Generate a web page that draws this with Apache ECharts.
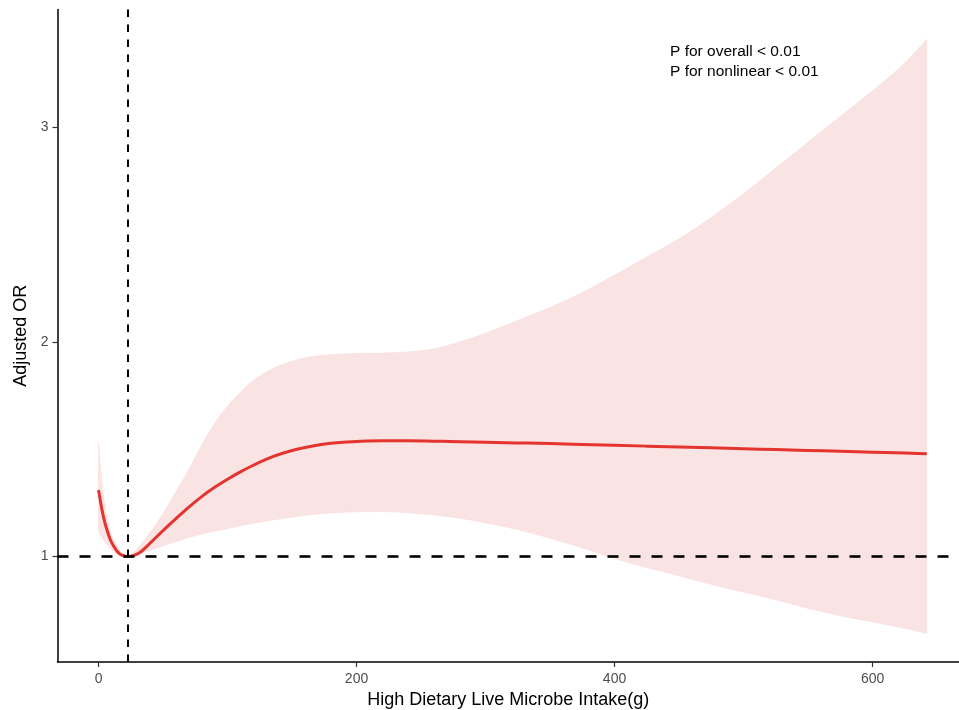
<!DOCTYPE html>
<html>
<head>
<meta charset="utf-8">
<script src="https://cdn.jsdelivr.net/npm/echarts@6/dist/echarts.min.js"></script>
<style>
html,body{margin:0;padding:0;background:#fff;}
#chart{width:959px;height:710px;}
</style>
</head>
<body>
<div id="chart"></div>
<script>
// ---- data ----
var intake = [0, 2, 4, 6, 9, 12, 15, 18, 22.5, 27, 32, 40, 50, 60, 70, 80, 90, 100, 110, 120, 135, 150, 165, 180, 200, 220, 240, 260, 280, 300, 325, 350, 375, 400, 425, 450, 475, 500, 525, 550, 575, 600, 625, 642];
var orFit = [1.31, 1.24, 1.18, 1.135, 1.08, 1.045, 1.02, 1.006, 1.0, 1.004, 1.018, 1.062, 1.12, 1.176, 1.23, 1.279, 1.322, 1.36, 1.394, 1.425, 1.465, 1.494, 1.514, 1.527, 1.536, 1.539, 1.539, 1.537, 1.535, 1.532, 1.529, 1.526, 1.522, 1.518, 1.514, 1.51, 1.506, 1.502, 1.498, 1.494, 1.49, 1.486, 1.482, 1.479];
var orUpper = [1.53, 1.38, 1.28, 1.2, 1.12, 1.075, 1.04, 1.015, 1.0, 1.02, 1.05, 1.11, 1.2, 1.3, 1.405, 1.52, 1.62, 1.7, 1.765, 1.82, 1.875, 1.91, 1.93, 1.94, 1.946, 1.948, 1.953, 1.967, 2.0, 2.04, 2.1, 2.16, 2.23, 2.31, 2.395, 2.48, 2.58, 2.69, 2.81, 2.93, 3.05, 3.17, 3.3, 3.41];
var orLower = [1.12, 1.095, 1.075, 1.06, 1.04, 1.022, 1.01, 1.003, 1.0, 1.006, 1.014, 1.028, 1.05, 1.07, 1.088, 1.104, 1.118, 1.13, 1.143, 1.155, 1.17, 1.183, 1.195, 1.203, 1.208, 1.209, 1.204, 1.193, 1.178, 1.157, 1.125, 1.085, 1.04, 0.99, 0.948, 0.91, 0.87, 0.834, 0.798, 0.758, 0.724, 0.695, 0.665, 0.642];
var refIntake = 22.5;   // vertical reference line
var refOR = 1;          // horizontal reference line
var xTicks = [0, 200, 400, 600];
var yTicks = [1, 2, 3];
var annotation = ['P for overall < 0.01', 'P for nonlinear < 0.01'];
var xTitle = 'High Dietary Live Microbe Intake(g)';
var yTitle = 'Adjusted OR';

// ---- helpers ----
var FONT = '"Liberation Sans", Arial, Helvetica, sans-serif';

// smooth cubic path through pixel points (monotone in x), Hermite with finite-difference slopes
function hermitePath(pts, first) {
  var n = pts.length, m = [];
  for (var i = 0; i < n; i++) {
    var a = pts[Math.max(i - 1, 0)], b = pts[Math.min(i + 1, n - 1)];
    m.push((b[1] - a[1]) / (b[0] - a[0]));
  }
  var d = (first ? 'M' : 'L') + pts[0][0].toFixed(2) + ' ' + pts[0][1].toFixed(2);
  for (var k = 0; k < n - 1; k++) {
    var p1 = pts[k], p2 = pts[k + 1], h = (p2[0] - p1[0]) / 3;
    d += ' C' + (p1[0] + h).toFixed(2) + ' ' + (p1[1] + m[k] * h).toFixed(2) + ' ' +
         (p2[0] - h).toFixed(2) + ' ' + (p2[1] - m[k + 1] * h).toFixed(2) + ' ' +
         p2[0].toFixed(2) + ' ' + p2[1].toFixed(2);
  }
  return d;
}

var chart = echarts.init(document.getElementById('chart'), null, {renderer: 'canvas'});

var option = {
  animation: false,
  backgroundColor: '#ffffff',
  textStyle: {fontFamily: FONT},
  grid: {left: 57.5, right: 0, top: 9.5, bottom: 48, containLabel: false, outerBoundsMode: 'none'},
  xAxis: {
    type: 'value',
    min: -31.8,
    max: 667,
    name: xTitle,
    nameLocation: 'middle',
    nameGap: 27,
    nameTextStyle: {fontSize: 18, color: '#000', fontFamily: FONT},
    axisLine: {show: true, onZero: false, lineStyle: {color: '#000', width: 1.5}},
    axisTick: {show: true, customValues: xTicks, length: 5, lineStyle: {color: '#333', width: 1.2}},
    axisLabel: {customValues: xTicks, fontSize: 14, color: '#4D4D4D', margin: 10, fontFamily: FONT},
    splitLine: {show: false}
  },
  yAxis: {
    type: 'value',
    min: 0.508,
    max: 3.549,
    name: yTitle,
    nameLocation: 'middle',
    nameGap: 24,
    nameRotate: 90,
    nameTextStyle: {fontSize: 18, color: '#000', fontFamily: FONT},
    axisLine: {show: true, onZero: false, lineStyle: {color: '#000', width: 1.5}},
    axisTick: {show: true, customValues: yTicks, length: 5, lineStyle: {color: '#333', width: 1.2}},
    axisLabel: {customValues: yTicks, fontSize: 14, color: '#4D4D4D', margin: 9, fontFamily: FONT},
    splitLine: {show: false}
  },
  series: [
    {
      // confidence band + fitted curve
      type: 'custom',
      silent: true,
      z: 1,
      data: [[intake[0], orFit[0]]],
      renderItem: function (params, api) {
        if (params.dataIndex !== 0) return;
        var up = [], lo = [], fit = [];
        for (var i = 0; i < intake.length; i++) {
          up.push(api.coord([intake[i], orUpper[i]]));
          fit.push(api.coord([intake[i], orFit[i]]));
        }
        for (var j = intake.length - 1; j >= 0; j--) lo.push(api.coord([intake[j], orLower[j]]));
        var band = hermitePath(up, true) + ' ' + hermitePath(lo, false) + ' Z';
        var line = hermitePath(fit, true);
        return {
          type: 'group',
          children: [
            {type: 'path', shape: {pathData: band}, style: {fill: '#FAE3E3', stroke: '#F8DCDC', lineWidth: 0.6}},
            {type: 'path', shape: {pathData: line}, style: {fill: null, stroke: '#E3342F', lineWidth: 3, lineJoin: 'round', lineCap: 'butt'}}
          ]
        };
      }
    },
    {
      type: 'line',
      z: 5,
      silent: true,
      data: [],
      markLine: {
        silent: true,
        symbol: ['none', 'none'],
        label: {show: false},
        animation: false,
        data: [
          {yAxis: refOR, lineStyle: {color: '#000', width: 2.6, type: [11, 11]}},
          {xAxis: refIntake, lineStyle: {color: '#000', width: 2, type: [7.5, 7.5]}}
        ]
      }
    }
  ],
  graphic: [
    {
      type: 'text',
      left: 670,
      top: 42,
      style: {
        text: annotation.join('\n'),
        font: '15.5px ' + FONT,
        fill: '#000',
        lineHeight: 20
      }
    }
  ]
};
chart.setOption(option);
</script>
</body>
</html>
